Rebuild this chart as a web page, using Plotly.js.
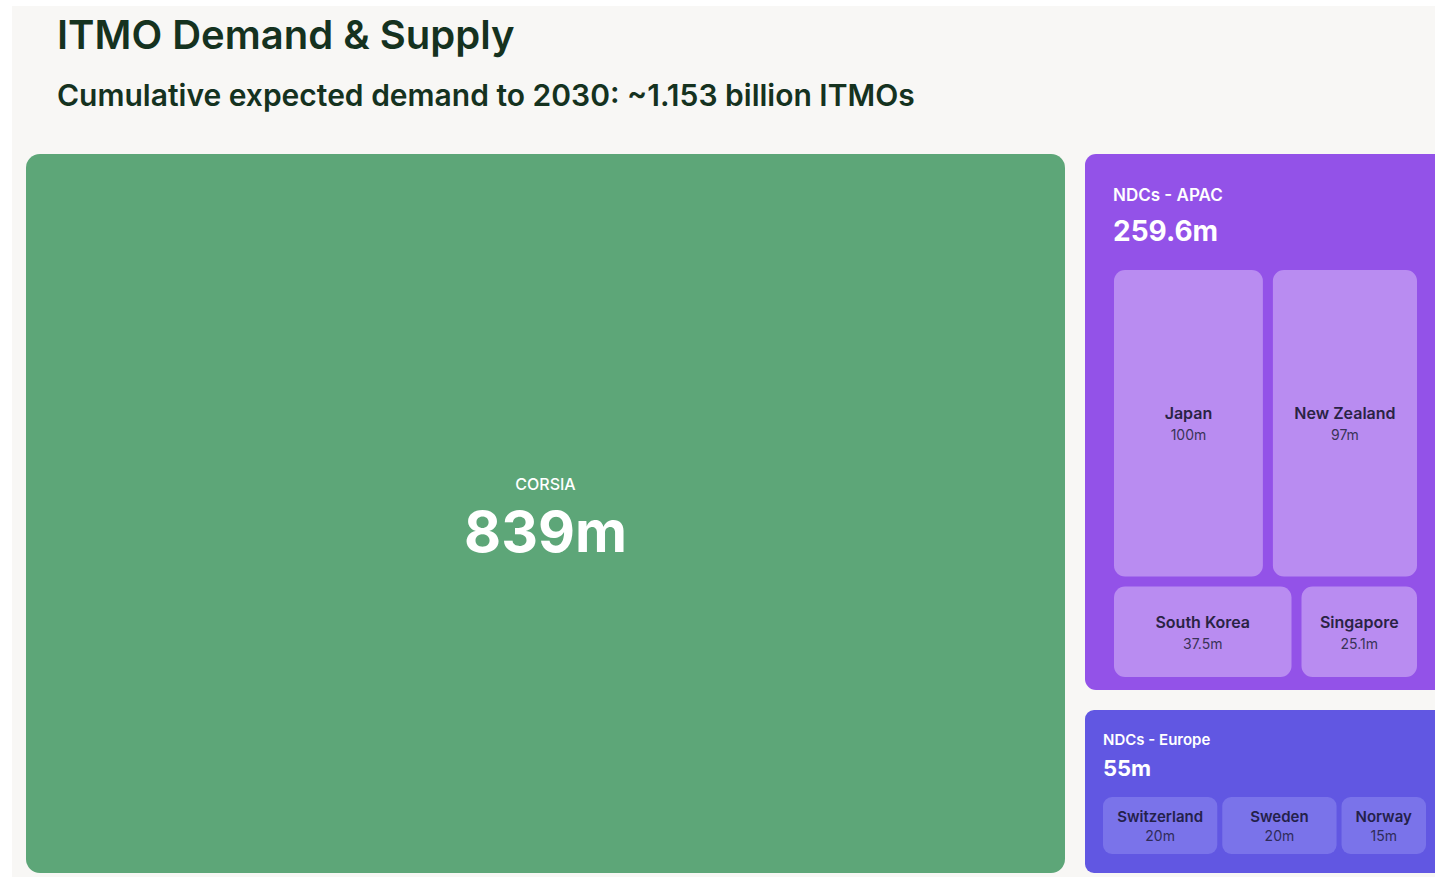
<!DOCTYPE html>
<html>
<head>
<meta charset="utf-8">
<script src="https://cdn.plot.ly/plotly-3.0.1.min.js"></script>
<style>
html,body{margin:0;padding:0;background:#ffffff;overflow:hidden;width:1435px;height:877px;}
#chart{position:absolute;left:12px;top:6px;width:1440px;height:871px;}
</style>
</head>
<body>
<div id="chart"></div>
<script>
// ---------- data ----------
const chartTitle = 'ITMO Demand & Supply';
const chartSubtitle = 'Cumulative expected demand to 2030: ~1.153 billion ITMOs';

const corsiaLabels = ['CORSIA'];
const corsiaParents = [''];
const corsiaValues = [839];

const apacLabels = ['NDCs - APAC', 'Japan', 'New Zealand', 'South Korea', 'Singapore'];
const apacParents = ['', 'NDCs - APAC', 'NDCs - APAC', 'NDCs - APAC', 'NDCs - APAC'];
const apacValues = [259.6, 100, 97, 37.5, 25.1];

const europeLabels = ['NDCs - Europe', 'Switzerland', 'Sweden', 'Norway'];
const europeParents = ['', 'NDCs - Europe', 'NDCs - Europe', 'NDCs - Europe'];
const europeValues = [55, 20, 20, 15];

// ---------- layout helpers ----------
const W = 1440, H = 871, OX = 12, OY = 6;
const FONT = 'Inter, "Noto Sans", sans-serif';
function domX(a, b) { return [(a - OX) / W, (b - OX) / W]; }
function domY(top, bottom) { return [1 - (bottom - OY) / H, 1 - (top - OY) / H]; }
const fmt = v => v + 'm';
const CLEAR = 'rgba(0,0,0,0)';

const common = {
  type: 'treemap',
  branchvalues: 'total',
  sort: true,
  pathbar: { visible: false },
  leaf: { opacity: 1 },
  hoverinfo: 'skip',
};

const corsiaDomain = { x: domX(26, 1065), y: domY(154, 873) };
const apacDomain = { x: domX(1085, 1446), y: domY(154, 690) };
const apacHeadDomain = { x: domX(1110, 1446), y: domY(182, 268) };
const europeDomain = { x: domX(1085, 1444), y: domY(710, 873) };
const europeHeadDomain = { x: domX(1100, 1444), y: domY(727, 795) };

const traces = [];

// CORSIA
const pad30 = '<span style="font-size:30px">\u00A0</span>';
traces.push(Object.assign({}, common, {
  labels: corsiaLabels, parents: corsiaParents, values: corsiaValues,
  text: corsiaValues.map(fmt),
  texttemplate: pad30 + '<span style="font-size:16px;font-weight:500">%{label}</span>' + pad30 +
    '<br><span style="font-size:57px;font-weight:700">%{text}</span>',
  textposition: 'middle center',
  textfont: { family: FONT, size: 47, color: '#ffffff' },
  outsidetextfont: { family: FONT, size: 47, color: '#ffffff' },
  marker: { colors: ['#5DA678'], line: { width: 0 }, cornerradius: 14 },
  domain: corsiaDomain
}));

// APAC cells + leaf text
const apacLeafTpl = '<span style="font-weight:600">%{label}</span><br><span style="font-size:14px;color:#3a3358">%{text}</span>';
traces.push(Object.assign({}, common, {
  labels: apacLabels, parents: apacParents, values: apacValues,
  text: apacValues.map(fmt),
  texttemplate: apacLabels.map((l, i) => i === 0 ? '' : apacLeafTpl),
  textposition: 'middle center',
  textfont: { family: FONT, size: 16, color: '#2a2344' },
  insidetextfont: { family: FONT, size: 16, color: '#2a2344' },
  outsidetextfont: { family: FONT, size: 16, color: CLEAR },
  marker: {
    colors: apacLabels.map((l, i) => i === 0 ? '#9352E8' : '#B98CF1'),
    line: { width: 0 }, cornerradius: 11,
    pad: { t: 116, l: 29, r: 29, b: 13 }
  },
  tiling: { packing: 'squarify', squarifyratio: 1.618, pad: 10 },
  domain: apacDomain
}));
// APAC header text (group label + total)
traces.push(Object.assign({}, common, {
  labels: [apacLabels[0]], parents: [''], values: [apacValues[0]],
  text: [fmt(apacValues[0])],
  texttemplate: '<span style="font-size:17px;font-weight:600">%{label}</span><br><span style="font-size:28px;font-weight:700">%{text}</span>',
  textposition: 'top left',
  textfont: { family: FONT, size: 30.8, color: '#ffffff' },
  outsidetextfont: { family: FONT, size: 30.8, color: '#ffffff' },
  marker: { colors: [CLEAR], line: { width: 0 } },
  domain: apacHeadDomain
}));

// Europe cells + leaf text
const euLeafTpl = '<span style="font-weight:600">%{label}</span><br><span style="font-size:14px;color:#2f2b5a">%{text}</span>';
traces.push(Object.assign({}, common, {
  labels: europeLabels, parents: europeParents, values: europeValues,
  text: europeValues.map(fmt),
  texttemplate: europeLabels.map((l, i) => i === 0 ? '' : euLeafTpl),
  textposition: 'middle center',
  textfont: { family: FONT, size: 15, color: '#24214a' },
  insidetextfont: { family: FONT, size: 15, color: '#24214a' },
  outsidetextfont: { family: FONT, size: 15, color: CLEAR },
  marker: {
    colors: europeLabels.map((l, i) => i === 0 ? '#6157E2' : '#7A73EA'),
    line: { width: 0 }, cornerradius: 9,
    pad: { t: 87, l: 18, r: 18, b: 19 }
  },
  tiling: { packing: 'squarify', squarifyratio: 1.618, pad: 5 },
  domain: europeDomain
}));
// Europe header text
traces.push(Object.assign({}, common, {
  labels: [europeLabels[0]], parents: [''], values: [europeValues[0]],
  text: [fmt(europeValues[0])],
  texttemplate: '<span style="font-size:15px;font-weight:600">%{label}</span><br><span style="font-size:22px;font-weight:700">%{text}</span>',
  textposition: 'top left',
  textfont: { family: FONT, size: 24.2, color: '#ffffff' },
  outsidetextfont: { family: FONT, size: 24.2, color: '#ffffff' },
  marker: { colors: [CLEAR], line: { width: 0 } },
  domain: europeHeadDomain
}));

const layout = {
  width: W, height: H,
  margin: { l: 0, r: 0, t: 0, b: 0 },
  paper_bgcolor: '#F8F7F5',
  plot_bgcolor: '#F8F7F5',
  font: { family: FONT },
  showlegend: false,
  annotations: [
    { text: chartTitle, xref: 'paper', yref: 'paper', x: 43 / W, y: 1 - 28 / H,
      xanchor: 'left', yanchor: 'middle', showarrow: false,
      font: { family: FONT, size: 40, weight: 600, color: '#15321F' } },
    { text: chartSubtitle, xref: 'paper', yref: 'paper', x: 43 / W, y: 1 - 89 / H,
      xanchor: 'left', yanchor: 'middle', showarrow: false,
      font: { family: FONT, size: 30, weight: 600, color: '#15321F' } }
  ]
};

Plotly.newPlot('chart', traces, layout, { displayModeBar: false, staticPlot: true });
</script>
</body>
</html>
